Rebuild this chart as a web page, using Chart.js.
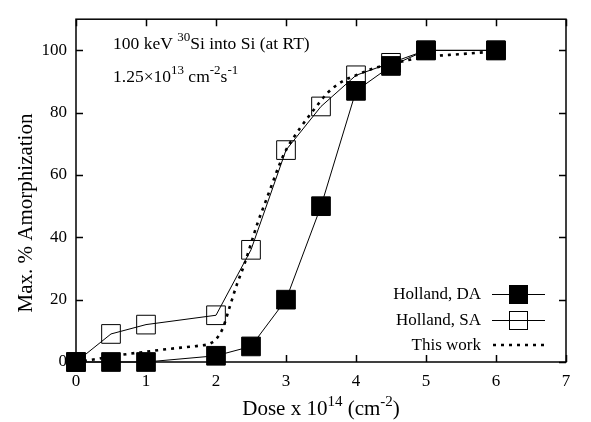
<!DOCTYPE html>
<html>
<head>
<meta charset="utf-8">
<script src="https://cdn.jsdelivr.net/npm/chart.js@4/dist/chart.umd.min.js"></script>
<style>
  html, body { margin: 0; padding: 0; background: #fff; }
  #wrap { width: 591px; height: 422px; }
</style>
</head>
<body>
<div id="wrap"><canvas id="myChart" width="591" height="422"></canvas></div>
<script>
// Dose (10^14 cm^-2) for the Holland points
const doseHolland = [0, 0.5, 1, 2, 2.5, 3, 3.5, 4, 4.5, 5, 6];
const hollandDA = [0, 0, 0, 2, 5, 20, 50, 87, 95, 100, 100];
const hollandSA = [0, 9, 12, 15, 36, 68, 82, 92, 96, 100, 100];

// "This work" curve
const doseWork = [0, 0.25, 0.5, 0.75, 1, 1.25, 1.5, 1.75, 1.9, 2.0, 2.1, 2.2, 2.3, 2.4, 2.5,
                  2.6, 2.7, 2.8, 2.9, 3.0, 3.2, 3.4, 3.6, 3.8, 4.0, 4.25, 4.5, 4.75, 5.0, 5.5, 6.0];
const amorphWork = [0, 0.8, 1.8, 2.6, 3.3, 4, 4.6, 5.2, 5.8, 7.3, 11, 18, 25, 31, 38,
                    45, 51, 57, 63, 68, 75, 81, 86.5, 90, 92, 94.2, 95.6, 96.9, 97.9, 98.8, 99.7];

const xTicks = [0, 1, 2, 3, 4, 5, 6, 7];
const yTicks = [0, 20, 40, 60, 80, 100];

const legendNames = ["Holland, DA", "Holland, SA", "This work"];

const FONT = '"Liberation Serif", "DejaVu Serif", serif';

function toPoints(xs, ys) {
    return xs.map((x, i) => ({x: x, y: ys[i]}));
}

// draw text made of [string, isSuperscript] pieces
function drawRich(ctx, parts, x, y, size) {
    let cx = x;
    parts.forEach(([txt, sup]) => {
        const s = sup ? Math.round(size * 0.72) : size;
        ctx.font = s + 'px ' + FONT;
        ctx.fillText(txt, cx, sup ? y - size * 0.45 : y);
        cx += ctx.measureText(txt).width;
    });
    return cx - x;
}
function richWidth(ctx, parts, size) {
    let w = 0;
    parts.forEach(([txt, sup]) => {
        const s = sup ? Math.round(size * 0.72) : size;
        ctx.font = s + 'px ' + FONT;
        w += ctx.measureText(txt).width;
    });
    return w;
}

// frame, inward ticks, titles, annotation and legend
const decor = {
    id: 'decor',
    afterDatasetsDraw(chart) {
        const ctx = chart.ctx;
        const a = chart.chartArea;
        const xs = chart.scales.x, ys = chart.scales.y;
        ctx.save();
        ctx.strokeStyle = '#000';
        ctx.lineWidth = 1.5;
        ctx.strokeRect(a.left, a.top, a.right - a.left, a.bottom - a.top);

        const tl = 7;
        xTicks.forEach(v => {
            const px = Math.round(xs.getPixelForValue(v)) + 0.5;
            ctx.beginPath();
            ctx.moveTo(px, a.bottom); ctx.lineTo(px, a.bottom - tl);
            ctx.moveTo(px, a.top); ctx.lineTo(px, a.top + tl);
            ctx.stroke();
        });
        yTicks.forEach(v => {
            const py = Math.round(ys.getPixelForValue(v)) + 0.5;
            ctx.beginPath();
            ctx.moveTo(a.left, py); ctx.lineTo(a.left + tl, py);
            ctx.moveTo(a.right, py); ctx.lineTo(a.right - tl, py);
            ctx.stroke();
        });

        ctx.fillStyle = '#000';
        ctx.textBaseline = 'alphabetic';
        ctx.textAlign = 'left';

        // annotation
        drawRich(ctx, [["100 keV ", false], ["30", true], ["Si into Si (at RT)", false]], 113, 49, 17.5);
        drawRich(ctx, [["1.25\u00d710", false], ["13", true], [" cm", false], ["-2", true], ["s", false], ["-1", true]], 113, 82, 17.5);

        // x title
        const xt = [["Dose x 10", false], ["14", true], [" (cm", false], ["-2", true], [")", false]];
        const xw = richWidth(ctx, xt, 21);
        drawRich(ctx, xt, (a.left + a.right) / 2 - xw / 2, 415, 21);

        // y title
        ctx.save();
        ctx.translate(32, 213);
        ctx.rotate(-Math.PI / 2);
        ctx.font = '21px ' + FONT;
        ctx.textAlign = 'center';
        ctx.fillText("Max. % Amorphization", 0, 0);
        ctx.restore();

        // legend
        const rows = [294, 320, 345];
        ctx.font = '17px ' + FONT;
        ctx.textAlign = 'right';
        ctx.textBaseline = 'middle';
        legendNames.forEach((name, i) => {
            ctx.fillText(name, 481, rows[i] + 1);
        });
        ctx.lineWidth = 1;
        for (let i = 0; i < 2; i++) {
            ctx.beginPath();
            ctx.moveTo(492, rows[i] + 0.5); ctx.lineTo(545, rows[i] + 0.5);
            ctx.stroke();
        }
        ctx.fillRect(509, rows[0] - 9, 19, 19);
        ctx.strokeRect(509.5, rows[1] - 8.5, 18, 18);
        ctx.lineWidth = 2.5;
        ctx.setLineDash([3, 5]);
        ctx.beginPath();
        ctx.moveTo(493, rows[2]); ctx.lineTo(545, rows[2]);
        ctx.stroke();
        ctx.restore();
    }
};

new Chart("myChart", {
    type: "scatter",
    data: {
        datasets: [
            {
                label: legendNames[0],
                data: toPoints(doseHolland, hollandDA),
                showLine: true,
                clip: false,
                borderColor: '#000',
                borderWidth: 1,
                backgroundColor: '#000',
                pointStyle: 'rect',
                pointRadius: 13.2,
                pointBorderWidth: 1,
                order: 1
            },
            {
                label: legendNames[2],
                data: toPoints(doseWork, amorphWork),
                showLine: true,
                clip: false,
                borderColor: '#000',
                borderWidth: 2.6,
                borderDash: [3, 5],
                pointRadius: 0,
                cubicInterpolationMode: 'monotone',
                order: 2
            },
            {
                label: legendNames[1],
                data: toPoints(doseHolland, hollandSA),
                showLine: true,
                clip: false,
                borderColor: '#000',
                borderWidth: 1,
                backgroundColor: 'rgba(0,0,0,0)',
                pointStyle: 'rect',
                pointRadius: 13.2,
                pointBorderWidth: 1,
                order: 3
            }
        ]
    },
    options: {
        responsive: false,
        animation: false,
        layout: {padding: {top: 9, right: 25, left: 0, bottom: 0}},
        plugins: {
            legend: {display: false},
            tooltip: {enabled: false}
        },
        scales: {
            x: {
                type: 'linear',
                min: 0, max: 7,
                grid: {display: false, drawTicks: false},
                border: {display: false},
                ticks: {
                    stepSize: 1, padding: 9, color: '#000',
                    font: {family: FONT, size: 17}
                },
                afterFit(scale) { scale.height = 60; }
            },
            y: {
                type: 'linear',
                min: 0, max: 110,
                grid: {display: false, drawTicks: false},
                border: {display: false},
                ticks: {
                    stepSize: 20, padding: 9, color: '#000',
                    font: {family: FONT, size: 17}
                },
                afterBuildTicks(scale) {
                    scale.ticks = yTicks.map(v => ({value: v}));
                },
                afterFit(scale) { scale.width = 76; }
            }
        }
    },
    plugins: [decor]
});
</script>
</body>
</html>
